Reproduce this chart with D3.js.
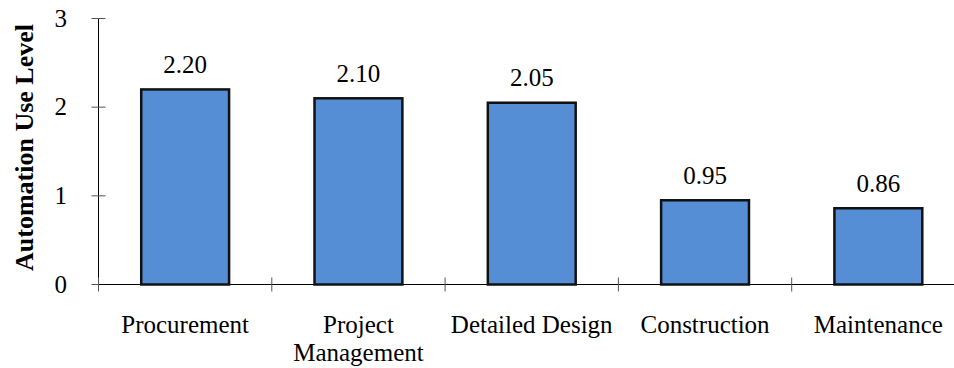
<!DOCTYPE html>
<html><head><meta charset="utf-8">
<script src="https://cdn.jsdelivr.net/npm/d3@7"></script>
<style>body{margin:0;background:#fff;}svg{display:block;}</style>
</head><body>
<svg id="c" width="954" height="368" font-family="'Liberation Serif', 'DejaVu Serif', serif"></svg>
<script>
const categories = ["Procurement", "Project Management", "Detailed Design", "Construction", "Maintenance"];
const categoryLines = [["Procurement"], ["Project", "Management"], ["Detailed Design"], ["Construction"], ["Maintenance"]];
const values = [2.20, 2.10, 2.05, 0.95, 0.86];
const valueLabels = ["2.20", "2.10", "2.05", "0.95", "0.86"];
const yTicks = [0, 1, 2, 3];
const yTitle = "Automation Use Level";

const svg = d3.select("#c");
const x0 = 98.5, bandW = 173.3;
const x = d3.scaleBand().domain(categories).range([x0, x0 + bandW * categories.length]).paddingInner(0.493).paddingOuter(0.2465);
const y = d3.scaleLinear().domain([0, 3]).range([284.5, 18.5]);
const FS = 25;

svg.append("line").attr("x1", x0).attr("x2", x0).attr("y1", y(3)).attr("y2", y(0)).attr("stroke", "#000").attr("stroke-width", 1);
yTicks.forEach(t => {
  svg.append("line").attr("x1", x0 - 7).attr("x2", x0 + 7).attr("y1", y(t)).attr("y2", y(t)).attr("stroke", "#555").attr("stroke-width", 1);
  svg.append("text").attr("x", 67).attr("y", y(t)).attr("dy", "0.33em").attr("text-anchor", "end").attr("font-size", FS).text(t);
});
svg.append("line").attr("x1", x0).attr("x2", 954).attr("y1", y(0)).attr("y2", y(0)).attr("stroke", "#000").attr("stroke-width", 1);
for (let i = 0; i <= categories.length; i++) {
  const xx = x0 + bandW * i;
  svg.append("line").attr("x1", xx).attr("x2", xx).attr("y1", y(0) - 7).attr("y2", y(0) + 7).attr("stroke", "#555").attr("stroke-width", 1);
}
svg.selectAll("rect.bar").data(values).enter().append("rect")
  .attr("x", (d, i) => x(categories[i]))
  .attr("width", x.bandwidth())
  .attr("y", d => y(d))
  .attr("height", d => y(0) - y(d))
  .attr("fill", "#558ED5").attr("stroke", "#111").attr("stroke-width", 2.5);
svg.selectAll("text.val").data(values).enter().append("text")
  .attr("x", (d, i) => x(categories[i]) + x.bandwidth() / 2)
  .attr("y", d => y(d) - 16.5)
  .attr("text-anchor", "middle").attr("font-size", FS)
  .text((d, i) => valueLabels[i]);
categoryLines.forEach((lines, i) => {
  const cx = x(categories[i]) + x.bandwidth() / 2;
  lines.forEach((ln, j) => {
    svg.append("text").attr("x", cx).attr("y", 332.5 + j * 28).attr("text-anchor", "middle").attr("font-size", FS).text(ln);
  });
});
svg.append("text").attr("transform", "translate(33,147.5) rotate(-90)").attr("text-anchor", "middle")
  .attr("font-size", 26).attr("font-weight", "bold").text(yTitle);
</script>
</body></html>
